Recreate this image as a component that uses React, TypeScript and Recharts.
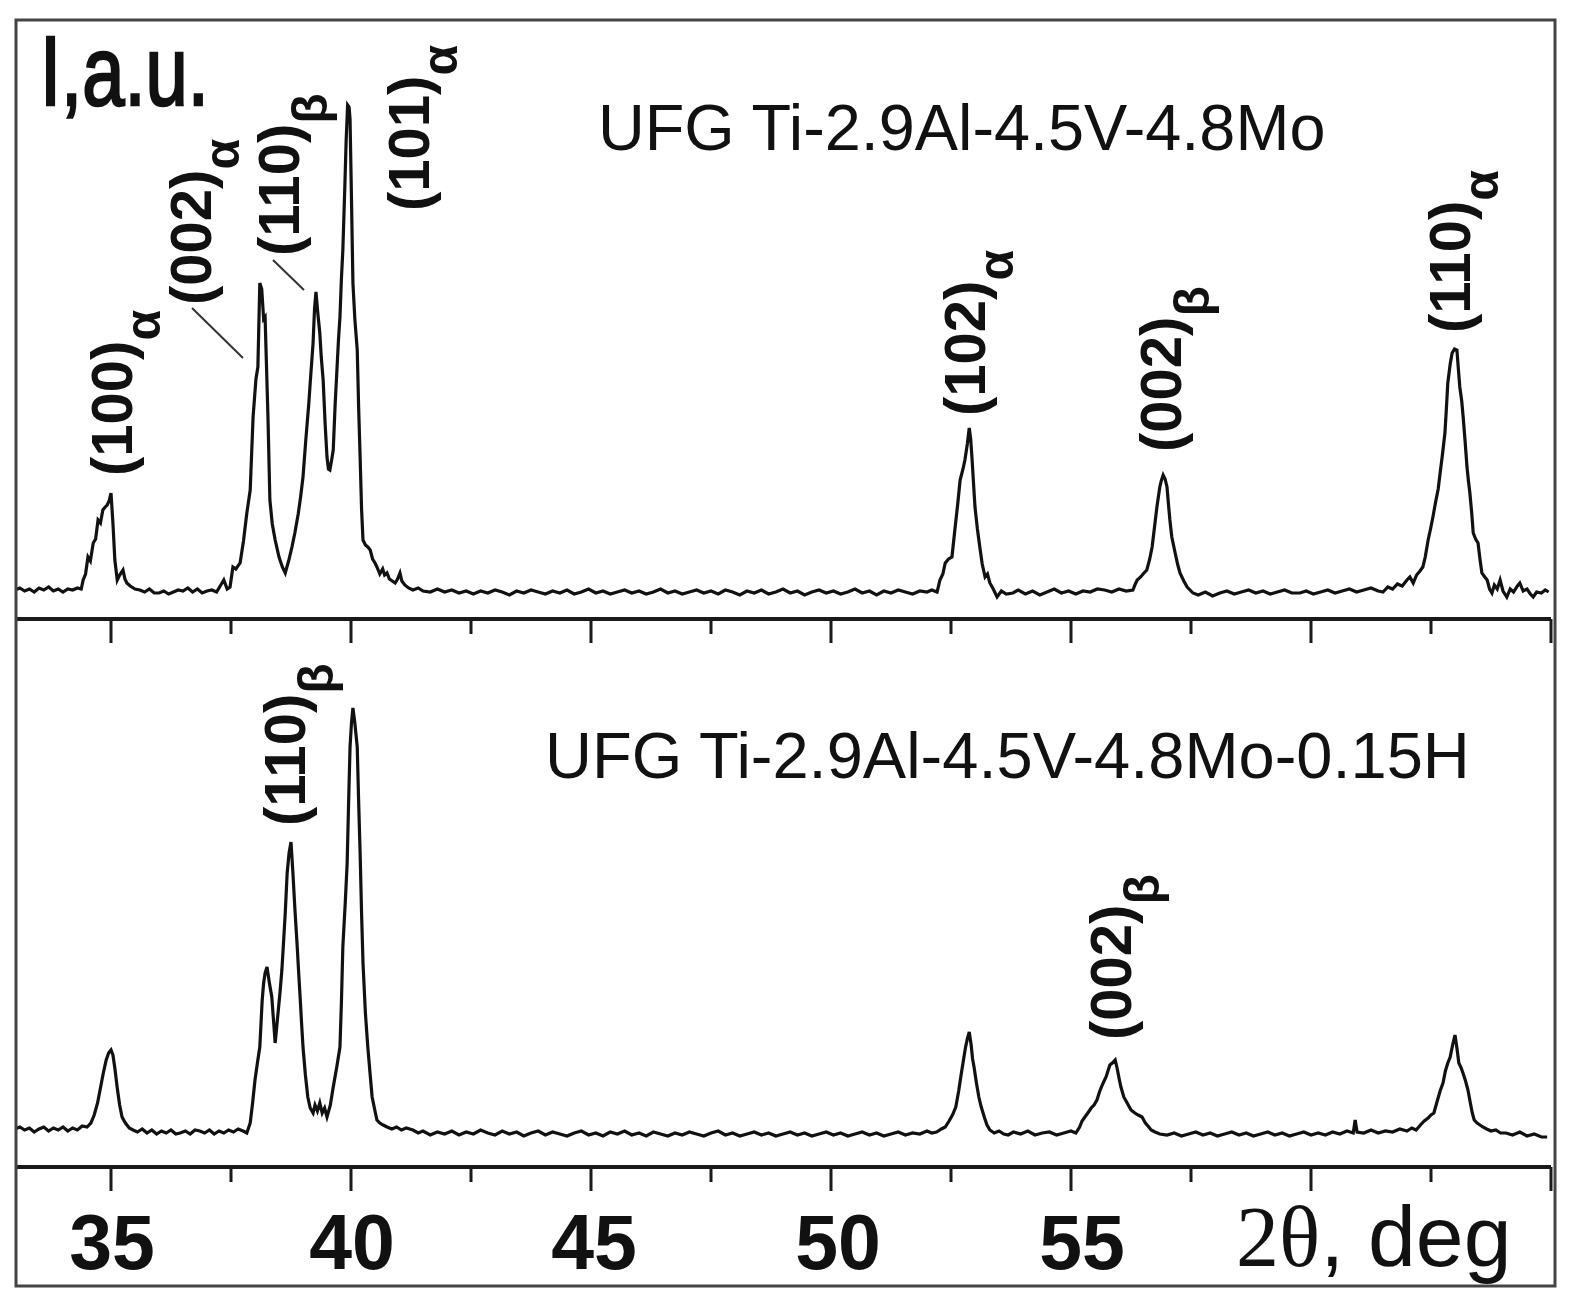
import React from 'react'
import { LineChart, Line, XAxis, YAxis } from 'recharts'

// XRD scans, [2theta (deg), intensity (a.u.)]
const topScan: [number, number][] = [
  [33.0, 29], [33.1, 31], [33.2, 28], [33.3, 30], [33.4, 27], [33.5, 31], [33.6, 29], [33.7, 32],
  [33.8, 28], [33.9, 30], [34.0, 27], [34.1, 30], [34.2, 29], [34.3, 31], [34.38, 30],
  [34.42, 39], [34.47, 45], [34.52, 62], [34.57, 58], [34.63, 76], [34.68, 80], [34.73, 99],
  [34.78, 96], [34.83, 109], [34.88, 112], [34.92, 114], [34.96, 118], [35.0, 126], [35.04, 96],
  [35.08, 59], [35.13, 39], [35.18, 44], [35.25, 49], [35.29, 40], [35.33, 36], [35.4, 33],
  [35.5, 30], [35.6, 29], [35.7, 27], [35.8, 30], [35.9, 26], [36.0, 26], [36.1, 28], [36.2, 25],
  [36.3, 27], [36.4, 29], [36.5, 28], [36.6, 31], [36.7, 27], [36.8, 30], [36.9, 26], [37.0, 28],
  [37.1, 29], [37.2, 27], [37.3, 35], [37.35, 39], [37.42, 30], [37.48, 32], [37.54, 52],
  [37.6, 50], [37.69, 56], [37.76, 78], [37.83, 106], [37.9, 129], [37.96, 202], [38.02, 240],
  [38.06, 252], [38.1, 336], [38.14, 330], [38.18, 300], [38.21, 302], [38.27, 202], [38.31, 119],
  [38.36, 95], [38.42, 79], [38.5, 62], [38.57, 52], [38.63, 46], [38.7, 58], [38.77, 72],
  [38.83, 86], [38.9, 105], [38.95, 122], [39.0, 142], [39.06, 180], [39.12, 215], [39.15, 236],
  [39.21, 276], [39.24, 310], [39.27, 327], [39.31, 305], [39.35, 286], [39.38, 262], [39.42, 239],
  [39.46, 196], [39.5, 162], [39.53, 150], [39.56, 149], [39.6, 160], [39.63, 169], [39.67, 215],
  [39.71, 252], [39.74, 280], [39.77, 302], [39.8, 340], [39.83, 369], [39.87, 430], [39.9, 480],
  [39.93, 514], [39.96, 512], [39.98, 500], [40.01, 420], [40.04, 336], [40.08, 300], [40.13, 269],
  [40.16, 210], [40.19, 162], [40.22, 110], [40.25, 79], [40.3, 74], [40.35, 72], [40.4, 69],
  [40.45, 60], [40.5, 56], [40.54, 52], [40.6, 45], [40.66, 50], [40.7, 44], [40.75, 46],
  [40.8, 40], [40.86, 38], [40.92, 36], [40.97, 40], [41.02, 46], [41.06, 38], [41.12, 34],
  [41.2, 31], [41.29, 29], [41.4, 31], [41.5, 28], [41.65, 27],
  [41.8, 30], [41.95, 27], [42.1, 29], [42.25, 26], [42.4, 28], [42.55, 25], [42.7, 28], [42.85, 26],
  [43.0, 29], [43.15, 27], [43.3, 24], [43.45, 28], [43.6, 26], [43.75, 29], [43.9, 27], [44.05, 25],
  [44.2, 28], [44.35, 26], [44.5, 29], [44.65, 25], [44.8, 27], [44.95, 30], [45.1, 26], [45.25, 28],
  [45.4, 25], [45.55, 27], [45.7, 29], [45.85, 26], [46.0, 28], [46.15, 25], [46.3, 27], [46.45, 30],
  [46.6, 26], [46.75, 28], [46.9, 25], [47.05, 27], [47.2, 29], [47.35, 26], [47.5, 28], [47.65, 25],
  [47.8, 29], [47.95, 27], [48.1, 24], [48.25, 28], [48.4, 26], [48.55, 29], [48.7, 25], [48.85, 27],
  [49.0, 30], [49.15, 26], [49.3, 28], [49.45, 24], [49.6, 27], [49.75, 29], [49.9, 26], [50.05, 28],
  [50.2, 25], [50.35, 27], [50.5, 30], [50.65, 26], [50.8, 28], [50.95, 24], [51.1, 28], [51.25, 26],
  [51.4, 29], [51.55, 27], [51.7, 25], [51.85, 28], [52.0, 27], [52.1, 29], [52.21, 27],
  [52.27, 39], [52.33, 45], [52.38, 56], [52.45, 60], [52.52, 62], [52.58, 89], [52.64, 115],
  [52.69, 139], [52.75, 150], [52.79, 159], [52.84, 175], [52.88, 191], [52.91, 180], [52.94, 159],
  [52.97, 135], [53.0, 112], [53.05, 90], [53.1, 72], [53.15, 55], [53.21, 42], [53.26, 45],
  [53.31, 36], [53.38, 30], [53.46, 22], [53.55, 28], [53.65, 25], [53.79, 26], [53.9, 29],
  [54.05, 25], [54.2, 28], [54.35, 24], [54.5, 27], [54.65, 30], [54.8, 26], [54.95, 28], [55.1, 25],
  [55.25, 28], [55.4, 27], [55.55, 30], [55.7, 29], [55.85, 27], [56.0, 30], [56.15, 28], [56.29, 29],
  [56.34, 35], [56.38, 39], [56.45, 42], [56.52, 46], [56.58, 49], [56.64, 60], [56.69, 72],
  [56.74, 92], [56.79, 112], [56.85, 132], [56.88, 138], [56.92, 144], [56.96, 140], [57.0, 132],
  [57.03, 115], [57.06, 99], [57.1, 82], [57.17, 66], [57.22, 55], [57.27, 46], [57.35, 38],
  [57.42, 32], [57.48, 29], [57.54, 26], [57.65, 24], [57.8, 27], [57.95, 23], [58.1, 26], [58.25, 28],
  [58.4, 25], [58.55, 27], [58.7, 29], [58.85, 26], [59.0, 28], [59.15, 25], [59.3, 27], [59.45, 29],
  [59.6, 26], [59.77, 26], [59.9, 28], [60.05, 25], [60.2, 27], [60.35, 29], [60.5, 26], [60.65, 28],
  [60.8, 30], [60.95, 27], [61.1, 29], [61.25, 31], [61.4, 28], [61.5, 27], [61.6, 32], [61.7, 30],
  [61.8, 35], [61.9, 33], [62.0, 39], [62.06, 42], [62.13, 36], [62.2, 44], [62.27, 48], [62.33, 52],
  [62.38, 62], [62.44, 79], [62.49, 90], [62.54, 102], [62.6, 118], [62.65, 130], [62.69, 146],
  [62.74, 165], [62.79, 186], [62.82, 210], [62.85, 236], [62.9, 255], [62.94, 266], [62.99, 270],
  [63.04, 269], [63.07, 250], [63.1, 232], [63.14, 218], [63.17, 202], [63.21, 178], [63.25, 152],
  [63.28, 138], [63.31, 126], [63.35, 105], [63.38, 86], [63.43, 80], [63.48, 76], [63.52, 60],
  [63.56, 46], [63.62, 42], [63.67, 39], [63.72, 30], [63.77, 26], [63.82, 34], [63.88, 30],
  [63.94, 39], [64.0, 28], [64.08, 22], [64.15, 30], [64.22, 27], [64.3, 33], [64.35, 36],
  [64.42, 28], [64.5, 30], [64.57, 25], [64.63, 22], [64.7, 27], [64.8, 26], [64.88, 29], [64.95, 27],
]

const bottomScan: [number, number][] = [
  [33.0, 34], [33.1, 36], [33.2, 33], [33.3, 35], [33.4, 31], [33.5, 34], [33.6, 36], [33.7, 32],
  [33.8, 35], [33.9, 33], [34.0, 36], [34.1, 32], [34.2, 35], [34.3, 33], [34.4, 37], [34.5, 36],
  [34.58, 40], [34.65, 48], [34.72, 60], [34.78, 75], [34.84, 90], [34.9, 103], [34.95, 110],
  [35.0, 113], [35.04, 108], [35.08, 95], [35.13, 75], [35.18, 58], [35.23, 46], [35.3, 40],
  [35.38, 35], [35.46, 33], [35.55, 31], [35.65, 34], [35.75, 30], [35.85, 33], [35.95, 29],
  [36.05, 32], [36.15, 30], [36.25, 33], [36.35, 29], [36.44, 30], [36.55, 32], [36.65, 29],
  [36.75, 33], [36.85, 32], [36.95, 30], [37.05, 33], [37.15, 29], [37.25, 32], [37.35, 30],
  [37.45, 33], [37.55, 31], [37.65, 34], [37.75, 32], [37.83, 30], [37.9, 40], [37.95, 60],
  [38.0, 83], [38.05, 100], [38.1, 116], [38.15, 163], [38.18, 180], [38.21, 190], [38.25, 196],
  [38.3, 180], [38.35, 166], [38.39, 140], [38.42, 120], [38.45, 135], [38.48, 150], [38.52, 170],
  [38.56, 193], [38.6, 225], [38.63, 250], [38.67, 290], [38.71, 310], [38.75, 321], [38.79, 290],
  [38.83, 255], [38.88, 216], [38.91, 190], [38.94, 166], [38.97, 140], [39.0, 116], [39.05, 88],
  [39.1, 66], [39.15, 55], [39.21, 50], [39.25, 58], [39.3, 52], [39.35, 60], [39.4, 50],
  [39.45, 55], [39.5, 46], [39.57, 58], [39.63, 76], [39.7, 95], [39.77, 116], [39.8, 160],
  [39.83, 216], [39.88, 260], [39.92, 300], [39.95, 360], [39.98, 416], [40.01, 440], [40.04, 455],
  [40.08, 440], [40.13, 416], [40.16, 360], [40.19, 310], [40.22, 250], [40.25, 200], [40.3, 150],
  [40.35, 116], [40.4, 88], [40.44, 66], [40.5, 52], [40.54, 43], [40.6, 40], [40.67, 38],
  [40.75, 36], [40.85, 34], [40.95, 36], [41.05, 33], [41.15, 35], [41.29, 33], [41.4, 30],
  [41.5, 32], [41.65, 28],
  [41.8, 31], [41.95, 29], [42.1, 32], [42.25, 28], [42.4, 31], [42.55, 29], [42.7, 33], [42.85, 30],
  [43.0, 28], [43.15, 32], [43.3, 29], [43.45, 31], [43.6, 27], [43.75, 30], [43.9, 32], [44.05, 28],
  [44.2, 31], [44.35, 29], [44.5, 27], [44.65, 30], [44.8, 32], [44.95, 28], [45.1, 30], [45.25, 27],
  [45.4, 31], [45.55, 29], [45.7, 32], [45.85, 28], [46.0, 30], [46.15, 27], [46.3, 31], [46.45, 29],
  [46.6, 27], [46.75, 30], [46.9, 28], [47.05, 31], [47.2, 29], [47.35, 27], [47.5, 30], [47.65, 32],
  [47.8, 28], [47.95, 30], [48.1, 27], [48.25, 29], [48.4, 31], [48.55, 28], [48.7, 30], [48.85, 27],
  [49.0, 29], [49.15, 31], [49.3, 28], [49.45, 30], [49.6, 27], [49.75, 29], [49.9, 31], [50.05, 28],
  [50.2, 30], [50.35, 27], [50.5, 29], [50.65, 31], [50.8, 28], [50.95, 30], [51.1, 27], [51.25, 29],
  [51.4, 31], [51.55, 28], [51.7, 30], [51.85, 29], [52.0, 32], [52.1, 30], [52.2, 31],
  [52.3, 34], [52.38, 36], [52.46, 42], [52.53, 48], [52.6, 56], [52.66, 72], [52.71, 88],
  [52.75, 100], [52.8, 115], [52.84, 124], [52.88, 131], [52.92, 118], [52.95, 104], [52.98, 96],
  [53.03, 80], [53.08, 66], [53.13, 56], [53.2, 45], [53.25, 38], [53.31, 33], [53.4, 30],
  [53.5, 32], [53.6, 29], [53.69, 28], [53.8, 31], [53.95, 29], [54.1, 32], [54.25, 28], [54.4, 30],
  [54.55, 31], [54.7, 28], [54.85, 30], [55.0, 32], [55.1, 30],
  [55.18, 36], [55.23, 42], [55.29, 46], [55.35, 50], [55.42, 55], [55.48, 58], [55.54, 63],
  [55.6, 72], [55.67, 80], [55.73, 86], [55.77, 92], [55.81, 98], [55.86, 100], [55.92, 103],
  [55.96, 95], [56.0, 85], [56.04, 76], [56.1, 66], [56.17, 60], [56.25, 53], [56.33, 50],
  [56.4, 48], [56.48, 46], [56.55, 40], [56.62, 36], [56.67, 33], [56.75, 31], [56.85, 29],
  [57.0, 28], [57.15, 30], [57.3, 27], [57.45, 29], [57.6, 31], [57.75, 28], [57.9, 30], [58.05, 27],
  [58.2, 29], [58.35, 31], [58.5, 28], [58.65, 30], [58.8, 27], [58.95, 29], [59.1, 31], [59.25, 28],
  [59.4, 30], [59.55, 27], [59.7, 29], [59.85, 31], [60.0, 28], [60.15, 30], [60.3, 28], [60.45, 31],
  [60.6, 29], [60.75, 32], [60.88, 30], [60.92, 43], [60.96, 31], [61.1, 30], [61.25, 33],
  [61.4, 30], [61.55, 32], [61.7, 31], [61.85, 34], [62.0, 32], [62.1, 35], [62.19, 33],
  [62.28, 38], [62.36, 42], [62.44, 45], [62.5, 48], [62.56, 50], [62.63, 62], [62.69, 72],
  [62.75, 80], [62.8, 92], [62.85, 100], [62.9, 106], [62.95, 118], [63.0, 128], [63.04, 115],
  [63.08, 100], [63.13, 95], [63.18, 88], [63.22, 82], [63.27, 73], [63.32, 60], [63.36, 50],
  [63.4, 43], [63.46, 40], [63.52, 38], [63.58, 36], [63.66, 34], [63.75, 32], [63.85, 33],
  [63.95, 30], [64.06, 30], [64.2, 28], [64.35, 31], [64.5, 27], [64.65, 29], [64.8, 26], [64.92, 26],
]

const angleDomain: [number, number] = [33, 65]
const xTicks = [35, 37.5, 40, 42.5, 45, 47.5, 50, 52.5, 55, 57.5, 60, 62.5, 65]
const tickLabels = [35, 40, 45, 50, 55]
// the printed numbers sit slightly right of their ticks further along the axis
const tickLabelShift = [1, 1, 3, 7, 11]

const topTitle = 'UFG Ti-2.9Al-4.5V-4.8Mo'
const bottomTitle = 'UFG Ti-2.9Al-4.5V-4.8Mo-0.15H'

// peak annotations: hkl, phase, label anchor (px)
const topPeaks = [
  { hkl: '100', phase: 'α', x: 132, y: 476 },
  { hkl: '002', phase: 'α', x: 211, y: 305 },
  { hkl: '110', phase: 'β', x: 299, y: 256 },
  { hkl: '101', phase: 'α', x: 429, y: 211 },
  { hkl: '102', phase: 'α', x: 985, y: 416 },
  { hkl: '002', phase: 'β', x: 1181, y: 452 },
  { hkl: '110', phase: 'α', x: 1470, y: 333 },
]
const bottomPeaks = [
  { hkl: '110', phase: 'β', x: 305, y: 826 },
  { hkl: '002', phase: 'β', x: 1131, y: 1040 },
]

const SANS = '"Liberation Sans", Arial, Helvetica, sans-serif'
const SERIF = '"Liberation Serif", "Times New Roman", serif'
const INK = '#111'

const topData = topScan.map(([angle, intensity]) => ({ angle, intensity }))
const bottomData = bottomScan.map(([angle, intensity]) => ({ angle, intensity }))

function renderTick(props: any, withLabels: boolean) {
  const { x, y, payload } = props
  const major = payload.value % 5 === 0
  const li = tickLabels.indexOf(payload.value)
  return (
    <g>
      <line x1={x} x2={x} y1={y} y2={y + (major ? 24 : 15)} stroke="#1a1a1a" strokeWidth={3} />
      {withLabels && li >= 0 && (
        <text x={x + tickLabelShift[li]} y={y + 102} textAnchor="middle" fontFamily={SANS} fontWeight="bold" fontSize={77} fill={INK}>
          {payload.value}
        </text>
      )}
    </g>
  )
}

function PeakLabel({ hkl, phase, x, y }: { hkl: string; phase: string; x: number; y: number }) {
  return (
    <text transform={`translate(${x},${y}) rotate(-90)`} fontFamily={SANS} fontWeight="bold" fontSize={58} fill={INK}>
      {`(${hkl})`}
      <tspan fontSize={50} dy={28}>{phase}</tspan>
    </text>
  )
}

export default function App() {
  return (
    <div style={{ position: 'absolute', left: 0, top: 0, width: 1577, height: 1314, background: '#fff', overflow: 'hidden' }}>
      <div style={{ position: 'absolute', left: 0, top: 0 }}>
        <LineChart width={1577} height={700} data={topData} margin={{ top: 19, right: 26, bottom: 41, left: 15 }}>
          <XAxis
            dataKey="angle"
            type="number"
            domain={angleDomain}
            ticks={xTicks}
            interval={0}
            allowDataOverflow
            height={40}
            tickSize={0}
            tickMargin={0}
            tickLine={false}
            axisLine={{ stroke: '#1a1a1a', strokeWidth: 4 }}
            tick={(p: any) => renderTick(p, false)}
          />
          <YAxis hide width={0} domain={[0, 600]} allowDataOverflow />
          <Line type="linear" dataKey="intensity" stroke={INK} strokeWidth={3.2} dot={false} isAnimationActive={false} />
        </LineChart>
      </div>
      <div style={{ position: 'absolute', left: 0, top: 0 }}>
        <LineChart width={1577} height={1314} data={bottomData} margin={{ top: 619, right: 26, bottom: 27, left: 15 }}>
          <XAxis
            dataKey="angle"
            type="number"
            domain={angleDomain}
            ticks={xTicks}
            interval={0}
            allowDataOverflow
            height={120}
            tickSize={0}
            tickMargin={0}
            tickLine={false}
            axisLine={{ stroke: '#1a1a1a', strokeWidth: 4 }}
            tick={(p: any) => renderTick(p, true)}
          />
          <YAxis hide width={0} domain={[-4, 544]} allowDataOverflow />
          <Line type="linear" dataKey="intensity" stroke={INK} strokeWidth={3.2} dot={false} isAnimationActive={false} />
        </LineChart>
      </div>
      <svg width={1577} height={1314} style={{ position: 'absolute', left: 0, top: 0, pointerEvents: 'none' }}>
        <rect x={16} y={20} width={1539} height={1266} fill="none" stroke="#444" strokeWidth={3} />
        <text
          transform="translate(40,105) scale(1,1.3)"
          fontFamily={SANS}
          fontSize={76}
          fill={INK}
          stroke={INK}
          strokeWidth={2}
        >
          I,a.u.
        </text>
        <text x={598} y={150} fontFamily={SANS} fontSize={64.8} fill={INK}>{topTitle}</text>
        <text x={545} y={778} fontFamily={SANS} fontSize={65} fill={INK}>{bottomTitle}</text>
        {topPeaks.map((p) => <PeakLabel key={`t${p.hkl}${p.phase}`} {...p} />)}
        {bottomPeaks.map((p) => <PeakLabel key={`b${p.hkl}${p.phase}`} {...p} />)}
        <line x1={192} y1={308} x2={243} y2={358} stroke="#333" strokeWidth={2} />
        <line x1={273} y1={260} x2={304} y2={290} stroke="#333" strokeWidth={2} />
        <text x={1236} y={1266} fill={INK} fontSize={86}>
          <tspan fontFamily={SERIF}>2θ</tspan>
          <tspan fontFamily={SANS}>, deg</tspan>
        </text>
      </svg>
    </div>
  )
}
